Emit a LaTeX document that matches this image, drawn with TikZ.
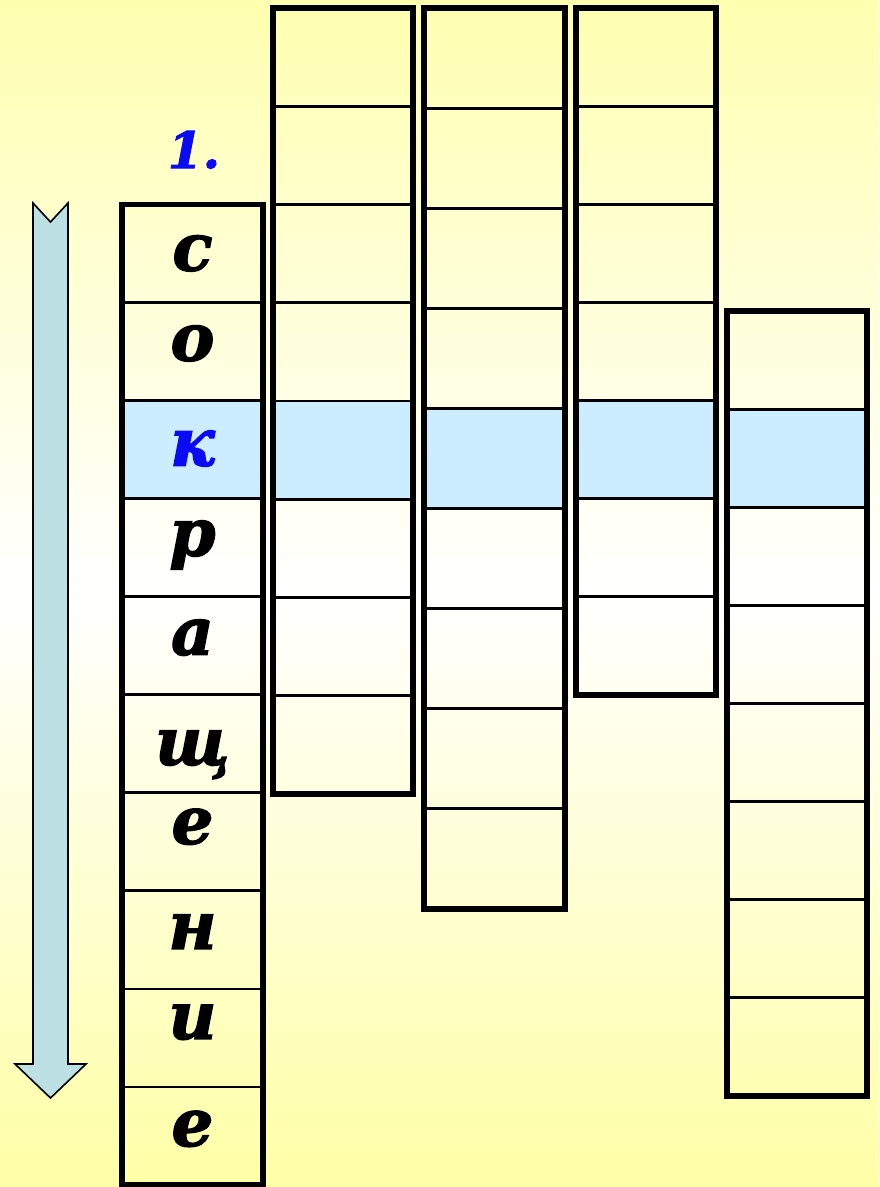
\documentclass[tikz,border=0pt]{standalone}
\usepackage{fontspec}
\setmainfont{DejaVu Serif}
\newfontfamily\lettfont[BoldItalicFeatures={FakeBold=2}]{DejaVu Serif}
\definecolor{bgyellow}{RGB}{255,255,176}
\definecolor{bgyellowb}{RGB}{255,255,166}
\definecolor{hl}{RGB}{204,236,255}
\definecolor{arrowfill}{RGB}{188,224,228}
\definecolor{letterblue}{RGB}{10,10,245}
\begin{document}
\begin{tikzpicture}[x=1pt,y=-1pt,
  cellbox/.style={draw=black, line width=2.8pt, inner sep=0pt, outer sep=0pt, rectangle},
  outerbox/.style={draw=black, line width=5.5pt, line join=miter},
  letter/.style={font=\lettfont\fontsize{66}{66}\selectfont\bfseries\itshape, inner sep=0pt, anchor=base},
  arrowshape/.style={fill=arrowfill, draw=black, line width=1.6pt, line join=miter}]
% background
\useasboundingbox (0,0) rectangle (879,1187);
\shade[top color=bgyellow, bottom color=white] (0,0) rectangle (879,590);
\shade[top color=white, bottom color=bgyellowb] (0,589) rectangle (879,1187);
% columns
\foreach \col/\x/\w/\top/\h/\n/\hi in {a/122/141/204.5/98.05/10/3, b/273/140/8/98.25/8/5, c/424/141/8/100.1/9/5, d/576/140/8/98.14/7/5, e/727/140/311/98.1/8/2} {
  \foreach \i in {1,...,\n} {
    \ifnum\i=\hi \def\cf{hl}\else\def\cf{none}\fi
    \node[cellbox, fill=\cf, minimum width=\w pt, minimum height=\h pt, anchor=north west] (\col\i) at (\x, {\top+(\i-1)*\h}) {};
  }
  \draw[outerbox] (\col1.north west) rectangle (\col\n.south east);
}
% letters
\foreach \i/\ch/\dy/\clr in {1/с/-17/black, 2/о/-9/black, 3/к/-16/letterblue, 4/р/-8/black, 5/а/-9/black, 6/щ/-21/black, 7/е/-2/black, 8/н/-9/black, 9/и/-1/black, 10/е/-10/black} {
  \node[letter, text=\clr] (t\i) at ([yshift=\dy pt]a\i.center) {\ch};
}
% number
\node[font=\lettfont\fontsize{50}{50}\selectfont\bfseries\itshape, text=letterblue, inner sep=0pt, anchor=base] (num) at (194,168) {1.};
% arrow
\draw[arrowshape] (33,203) -- (50.5,222) -- (68,203) -- (68,1064) -- (86,1064) -- (50.5,1098) -- (15,1064) -- (33,1064) -- cycle;
\end{tikzpicture}
\end{document}
